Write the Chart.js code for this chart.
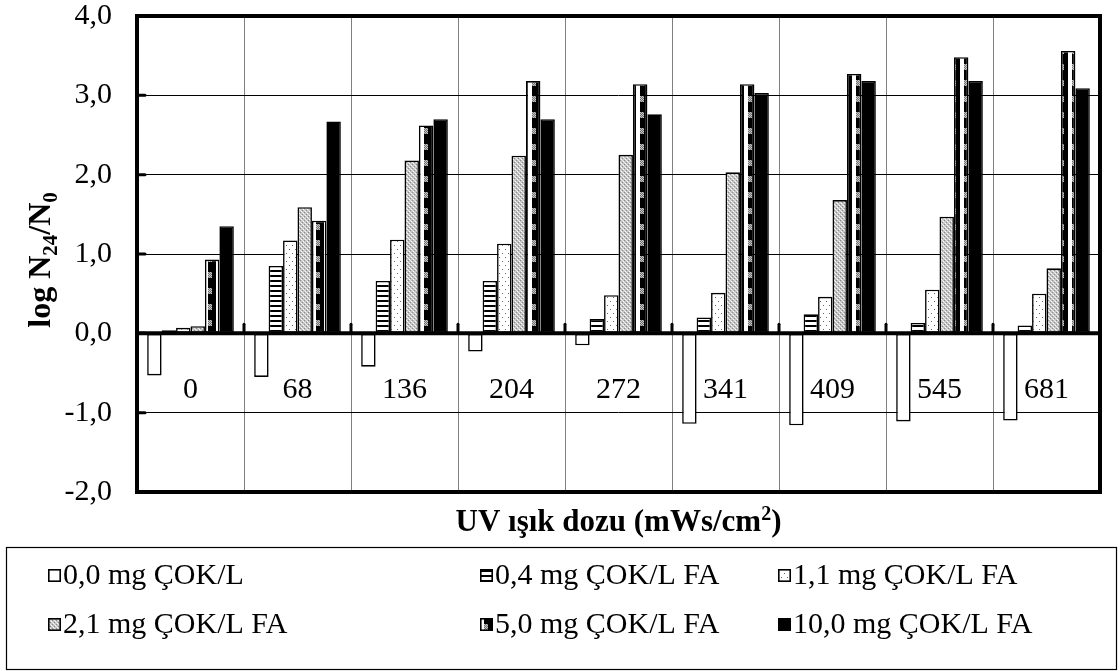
<!DOCTYPE html>
<html>
<head>
<meta charset="utf-8">
<script src="https://cdn.jsdelivr.net/npm/chart.js@4/dist/chart.umd.min.js"></script>
<style>
  html, body { margin: 0; padding: 0; background: #ffffff; }
  #wrap { width: 1120px; height: 671px; }
</style>
</head>
<body>
<div id="wrap"><canvas id="c" width="1120" height="671"></canvas></div>
<script>
// UV dose categories (mWs/cm²)
const doses = ['0', '68', '136', '204', '272', '341', '409', '545', '681'];

// Series names
const seriesNames = [
  '0,0 mg ÇOK/L',
  '0,4 mg ÇOK/L FA',
  '1,1 mg ÇOK/L FA',
  '2,1 mg ÇOK/L FA',
  '5,0 mg ÇOK/L FA',
  '10,0 mg ÇOK/L FA'
];

// log N24/N0 per dose, one array per concentration
const s00  = [-0.53, -0.55, -0.42, -0.23, -0.15, -1.14, -1.16, -1.11, -1.10];
const s04  = [ 0.04,  0.85,  0.66,  0.66,  0.18,  0.20,  0.24,  0.13,  0.10];
const s11  = [ 0.07,  1.17,  1.18,  1.13,  0.48,  0.51,  0.46,  0.55,  0.50];
const s21  = [ 0.09,  1.59,  2.18,  2.24,  2.25,  2.03,  1.68,  1.47,  0.82];
const s50  = [ 0.93,  1.42,  2.62,  3.18,  3.14,  3.14,  3.27,  3.48,  3.56];
const s100 = [ 1.35,  2.67,  2.70,  2.70,  2.76,  3.03,  3.18,  3.18,  3.09];

// Value axis ticks
const yTicks = [-2, -1, 0, 1, 2, 3, 4];

const FONT = "'Liberation Serif', 'Times New Roman', serif";

// ---- fill patterns -------------------------------------------------------
function tile(w, h, paint) {
  const c = document.createElement('canvas');
  c.width = w; c.height = h;
  const g = c.getContext('2d');
  paint(g);
  return document.createElement('canvas').getContext('2d').createPattern(c, 'repeat');
}
function px(g, x, y, col, w = 1, h = 1) { g.fillStyle = col; g.fillRect(x, y, w, h); }

const patWhite = '#ffffff';
const patStripes = tile(6, 5, g => {
  px(g, 0, 0, '#fff', 6, 5);
  px(g, 0, 0, '#000', 6, 2);
});
const patDots = tile(6, 8, g => {
  px(g, 0, 0, '#fff', 6, 8);
  px(g, 1, 1, '#666');
  px(g, 4, 5, '#666');
});
const patConfetti = tile(4, 4, g => {
  px(g, 0, 0, '#c4c4c4', 4, 4);
  px(g, 0, 0, '#8a8a8a'); px(g, 2, 2, '#8a8a8a');
  px(g, 1, 3, '#ffffff'); px(g, 3, 1, '#ffffff');
  px(g, 2, 0, '#e6e6e6'); px(g, 0, 2, '#e6e6e6');
});
const patChecker = tile(12, 16, g => {
  px(g, 0, 0, '#000', 12, 16);
  px(g, 0, 0, '#fff', 4, 16);
  for (let y = 0; y < 6; y++) for (let x = 4; x < 8; x++)
    px(g, x, y, (x + y) % 2 ? '#6e6e6e' : '#c8c8c8');
});
const patSolid = '#000000';

const fills = [patWhite, patStripes, patDots, patConfetti, patChecker, patSolid];
const values = [s00, s04, s11, s21, s50, s100];

const datasets = values.map((v, i) => ({
  label: seriesNames[i],
  data: v,
  backgroundColor: fills[i],
  borderColor: '#000000',
  borderWidth: 1.6,
  borderSkipped: false,
  categoryPercentage: 0.81,
  barPercentage: 1.0
}));

const fmt = v => v.toFixed(1).replace('.', ',');

// ---- text with sub/superscripts -----------------------------------------
function drawRuns(ctx, runs, cx, cy, size, weight) {
  const parts = runs.map(r => {
    const s = r.sub || r.sup ? Math.round(size * 0.66) : size;
    ctx.font = `${weight} ${s}px ${FONT}`;
    return { t: r.t, s, w: ctx.measureText(r.t).width, dy: r.sub ? size * 0.22 : (r.sup ? -size * 0.36 : 0) };
  });
  const total = parts.reduce((a, p) => a + p.w, 0);
  let x = cx - total / 2;
  ctx.textBaseline = 'alphabetic';
  ctx.textAlign = 'left';
  ctx.fillStyle = '#000';
  parts.forEach(p => {
    ctx.font = `${weight} ${p.s}px ${FONT}`;
    ctx.fillText(p.t, x, cy + size * 0.33 + p.dy);
    x += p.w;
  });
}

const frame = {
  id: 'frame',
  afterDatasetsDraw(chart) {
    const { ctx, chartArea: a, scales } = chart;
    const y0 = scales.y.getPixelForValue(0);
    ctx.save();
    ctx.strokeStyle = '#000';
    // zero line
    ctx.lineWidth = 4;
    ctx.beginPath(); ctx.moveTo(a.left, y0); ctx.lineTo(a.right, y0); ctx.stroke();
    // plot border
    ctx.strokeRect(a.left, a.top, a.right - a.left, a.bottom - a.top);
    // tick stubs
    ctx.lineWidth = 3;
    ctx.lineCap = 'round';
    yTicks.forEach(t => {
      const yy = scales.y.getPixelForValue(t);
      ctx.beginPath(); ctx.moveTo(a.left, yy); ctx.lineTo(a.left + 8, yy); ctx.stroke();
    });
    const step = (a.right - a.left) / doses.length;
    for (let i = 1; i < doses.length; i++) {
      const xx = a.left + step * i;
      ctx.beginPath(); ctx.moveTo(xx, y0); ctx.lineTo(xx, y0 - 9); ctx.stroke();
    }
    ctx.restore();
  },
  afterDraw(chart) {
    const { ctx, chartArea: a } = chart;
    ctx.save();
    // x axis title
    drawRuns(ctx, [{ t: 'UV ışık dozu (mWs/cm' }, { t: '2', sup: true }, { t: ')' }],
      (a.left + a.right) / 2, 521, 31, 'bold');
    // y axis title
    ctx.save();
    ctx.translate(39, 260);
    ctx.rotate(-Math.PI / 2);
    drawRuns(ctx, [{ t: 'log N' }, { t: '24', sub: true }, { t: '/N' }, { t: '0', sub: true }], 0, 0, 32, 'bold');
    ctx.restore();

    // legend
    ctx.strokeStyle = '#000';
    ctx.lineWidth = 1.2;
    ctx.strokeRect(6.5, 547.5, 1110, 122);
    const cols = [48, 480, 778];
    const rows = [575, 624];
    ctx.font = `30px ${FONT}`;
    ctx.textBaseline = 'middle';
    ctx.textAlign = 'left';
    chart.data.datasets.forEach((ds, i) => {
      const x = cols[i % 3], y = rows[Math.floor(i / 3)];
      ctx.fillStyle = ds.backgroundColor;
      ctx.fillRect(x, y - 6, 13, 13);
      ctx.lineWidth = 1.6;
      ctx.strokeRect(x + 0.8, y - 5.2, 11.4, 11.4);
      ctx.fillStyle = '#000';
      ctx.fillText(ds.label, x + 15, y + 1);
    });
    ctx.restore();
  }
};

new Chart(document.getElementById('c'), {
  type: 'bar',
  data: { labels: doses, datasets },
  options: {
    responsive: false,
    animation: false,
    devicePixelRatio: 1,
    layout: { padding: { left: 0, top: 16, right: 20, bottom: 179 } },
    plugins: { legend: { display: false }, tooltip: { enabled: false } },
    scales: {
      x: {
        position: { y: 0 },
        grid: { color: '#808080', lineWidth: 1, drawTicks: false, offset: true },
        border: { display: false },
        ticks: { color: '#000', font: { family: FONT, size: 30 }, padding: 39, maxRotation: 0, autoSkip: false },
        afterFit(s) { s.paddingLeft = 0; s.paddingRight = 0; }
      },
      y: {
        min: -2, max: 4,
        afterBuildTicks(s) { s.ticks = yTicks.map(v => ({ value: v })); },
        grid: { color: '#000', lineWidth: 1, drawTicks: false },
        border: { display: false },
        ticks: { color: '#000', font: { family: FONT, size: 30 }, padding: 25, callback: v => fmt(v) },
        afterFit(s) { s.width = 137; s.paddingTop = 0; s.paddingBottom = 0; }
      }
    }
  },
  plugins: [frame]
});
</script>
</body>
</html>
